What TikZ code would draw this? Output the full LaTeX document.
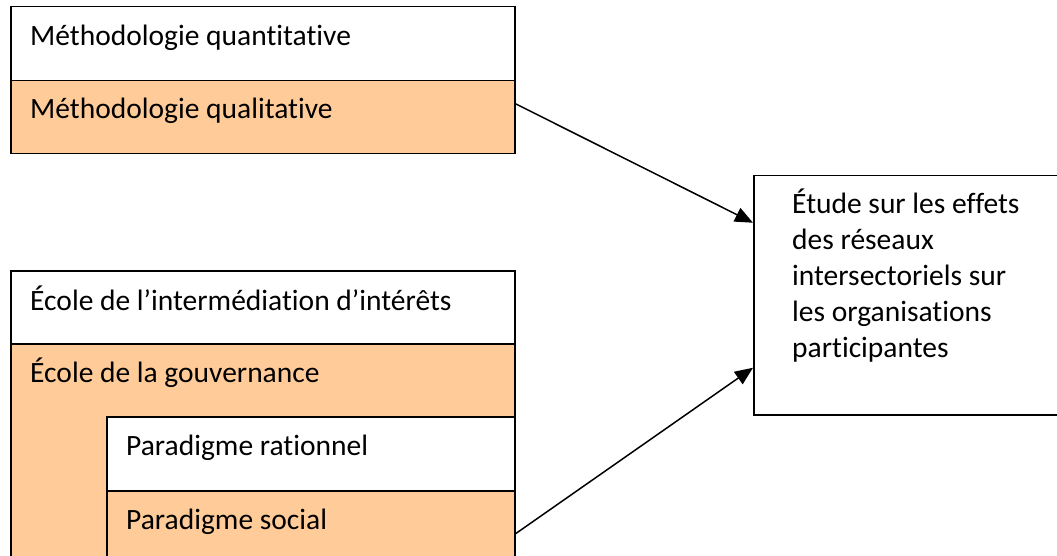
\documentclass[tikz,border=0pt]{standalone}
\usepackage{fontspec}
\setmainfont{Carlito}[Ligatures={NoCommon}]
\usetikzlibrary{arrows.meta}
\definecolor{peach}{RGB}{255,204,153}
\begin{document}
\begin{tikzpicture}[x=1pt,y=-1pt,
  cell/.style={draw,line width=1.5pt,fill=white,anchor=north west,inner sep=0pt,minimum width=504pt},
  celltext/.style={anchor=base west,inner sep=0pt,font=\fontsize{29.5}{36}\selectfont},
  link/.style={line width=1.5pt,-{Triangle[length=18pt,width=15pt]}}]
  \clip (0,0) rectangle (1057,556);
  % methodologies
  \node[cell,minimum height=74pt] (mquant) at (10,6) {};
  \node[cell,fill=peach,minimum height=73pt] (mqual) at (10,80) {};
  \node[celltext] (tquant) at ([shift={(20,40)}]mquant.north west) {Méthodologie quantitative};
  \node[celltext] (tqual) at ([shift={(20,39)}]mqual.north west) {Méthodologie qualitative};
  % ecoles et paradigmes
  \node[cell,minimum height=73pt] (interm) at (10,270) {};
  \node[cell,fill=peach,minimum height=240pt] (gouv) at (10,343) {};
  \node[cell,minimum width=408pt,minimum height=74pt] (prat) at (106,416) {};
  \node[cell,fill=peach,minimum width=408pt,minimum height=93pt] (psoc) at (106,490) {};
  \node[celltext] (tinterm) at ([shift={(20,40)}]interm.north west) {École de l’intermédiation d’intérêts};
  \node[celltext] (tgouv) at ([shift={(20,39)}]gouv.north west) {École de la gouvernance};
  \node[celltext] (tprat) at ([shift={(20,39)}]prat.north west) {Paradigme rationnel};
  \node[celltext] (tpsoc) at ([shift={(20,39)}]psoc.north west) {Paradigme social};
  % etude
  \node[cell,minimum width=330pt,minimum height=239pt] (etude) at (753,175) {};
  \node[celltext,align=left] (tetude) at ([shift={(39,182)}]etude.north west)
    {Étude sur les effets\\des réseaux\\intersectoriels sur\\les organisations\\participantes};
  % arrows
  \draw[link] ([yshift=13.5pt]mqual.east) -- ([yshift=72.5pt]etude.west);
  \draw[link] ([yshift=3.5pt]psoc.east) -- ([yshift=-72.5pt]etude.west);
\end{tikzpicture}
\end{document}
